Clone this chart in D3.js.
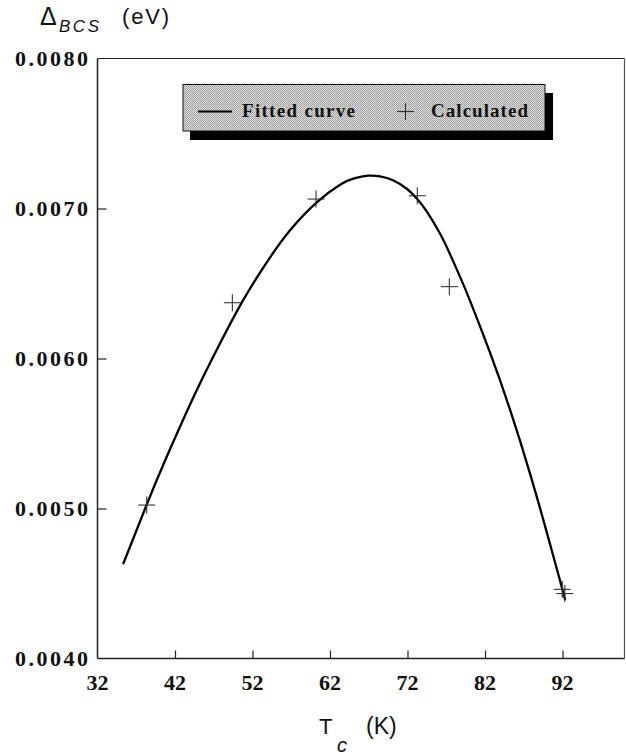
<!DOCTYPE html>
<html>
<head>
<meta charset="utf-8">
<script src="https://cdn.jsdelivr.net/npm/d3@7"></script>
<style>
  html, body { margin: 0; padding: 0; background: #fff; }
  svg { display: block; }
  .tick-label { font-family: "Liberation Serif", "Times New Roman", serif; font-weight: bold; font-size: 22px; fill: #111; }
  .legend-label { font-family: "Liberation Serif", "Times New Roman", serif; font-weight: bold; font-size: 19px; fill: #111; }
  .axis-title { font-family: "Liberation Sans", Arial, sans-serif; fill: #111; }
</style>
</head>
<body>
<svg id="chart" width="626" height="755"></svg>
<script>
// Calculated BCS gap values versus critical temperature
const tcCalculated  = [38.35, 49.4, 60.2, 73.26, 77.4, 91.97, 92.3];
const gapCalculated = [0.005023, 0.006372, 0.007063, 0.007085, 0.006479, 0.004461, 0.004433];

// Sampled points along the fitted curve
const tcFitted  = [35.35, 38.35, 40.75, 44.15, 46.75, 50.65, 54.25, 56.85, 60.25, 63.35, 65.1, 66.9, 68.45, 70.13, 71.94, 73.23, 74.52, 76.19, 77.48, 78.77, 80.06, 82.65, 85.23, 87.81, 90.0, 91.68, 92.32];
const gapFitted = [0.004635, 0.005026, 0.005323, 0.005716, 0.005993, 0.006376, 0.006673, 0.006855, 0.007039, 0.00716, 0.007201, 0.007219, 0.007214, 0.007188, 0.00713, 0.007065, 0.006978, 0.006833, 0.006696, 0.006546, 0.006386, 0.006039, 0.005659, 0.005233, 0.004836, 0.00452, 0.004396];

// Axis tick values and labels
const xTickValues = [32, 42, 52, 62, 72, 82, 92];
const yTickValues = [0.004, 0.005, 0.006, 0.007, 0.008];
const yTickLabels = ["0.0040", "0.0050", "0.0060", "0.0070", "0.0080"];

const legendItems = ["Fitted curve", "Calculated"];

const svg = d3.select("#chart");
const plot = { left: 97.5, right: 624.5, top: 58.5, bottom: 658.5 };

const x = d3.scaleLinear().domain([32, 100]).range([plot.left, plot.right]);
const y = d3.scaleLinear().domain([0.004, 0.008]).range([plot.bottom, plot.top]);

// stippled legend fill
const defs = svg.append("defs");
const pat = defs.append("pattern")
  .attr("id", "stipple").attr("width", 2).attr("height", 2)
  .attr("patternUnits", "userSpaceOnUse");
pat.append("rect").attr("width", 2).attr("height", 2).attr("fill", "#dedede");
pat.append("rect").attr("x", 0).attr("y", 0).attr("width", 1).attr("height", 1).attr("fill", "#9c9c9c");
pat.append("rect").attr("x", 1).attr("y", 1).attr("width", 1).attr("height", 1).attr("fill", "#a8a8a8");

// frame: top and right edges
svg.append("line").attr("x1", plot.left).attr("x2", plot.right).attr("y1", plot.top).attr("y2", plot.top)
  .attr("stroke", "#222").attr("stroke-width", 1.2);
svg.append("line").attr("x1", plot.right).attr("x2", plot.right).attr("y1", plot.top).attr("y2", plot.bottom)
  .attr("stroke", "#555").attr("stroke-width", 1.2);

// bottom axis, ticks pointing inward
const xAxis = d3.axisBottom(x).tickValues(xTickValues.slice(1)).tickSize(-8).tickFormat("");
const gx = svg.append("g").attr("transform", `translate(0,${plot.bottom})`).call(xAxis);
gx.select(".domain").attr("d", `M${plot.left},0H${plot.right}`).attr("stroke", "#222").attr("stroke-width", 1.5);
gx.selectAll(".tick line").attr("stroke", "#222").attr("stroke-width", 1.2);

// left axis, ticks pointing inward
const yAxis = d3.axisLeft(y).tickValues(yTickValues.slice(1, -1)).tickSize(-9).tickFormat("");
const gy = svg.append("g").attr("transform", `translate(${plot.left},0)`).call(yAxis);
gy.select(".domain").attr("d", `M0,${plot.top}V${plot.bottom}`).attr("stroke", "#222").attr("stroke-width", 1.5);
gy.selectAll(".tick line").attr("stroke", "#222").attr("stroke-width", 1.2);

// tick labels
svg.append("g").selectAll("text").data(xTickValues).join("text")
  .attr("class", "tick-label")
  .attr("x", d => x(d)).attr("y", 690)
  .attr("text-anchor", "middle")
  .text(d => d);

svg.append("g").selectAll("text").data(yTickValues).join("text")
  .attr("class", "tick-label")
  .attr("x", 15).attr("y", d => y(d) + 7.5)
  .attr("textLength", 73).attr("lengthAdjust", "spacing")
  .text((d, i) => yTickLabels[i]);

// fitted curve
const fitData = tcFitted.map((t, i) => [t, gapFitted[i]]);
svg.append("path")
  .datum(fitData)
  .attr("fill", "none").attr("stroke", "#000").attr("stroke-width", 2.3)
  .attr("stroke-linejoin", "round").attr("stroke-linecap", "round")
  .attr("d", d3.line().x(d => x(d[0])).y(d => y(d[1])).curve(d3.curveNatural));

// calculated points as crosses
const crossArm = 8.5;
const calcData = tcCalculated.map((t, i) => [t, gapCalculated[i]]);
const crosses = svg.append("g").selectAll("g").data(calcData).join("g")
  .attr("transform", d => `translate(${x(d[0])},${y(d[1])})`);
crosses.append("line").attr("x1", -crossArm).attr("x2", crossArm).attr("y1", 0).attr("y2", 0)
  .attr("stroke", "#333").attr("stroke-width", 1.1);
crosses.append("line").attr("x1", 0).attr("x2", 0).attr("y1", -crossArm).attr("y2", crossArm)
  .attr("stroke", "#333").attr("stroke-width", 1.1);

// legend box with drop shadow
const legend = svg.append("g");
legend.append("rect").attr("x", 190).attr("y", 93).attr("width", 363).attr("height", 47).attr("fill", "#000");
legend.append("rect").attr("x", 183).attr("y", 84.5).attr("width", 362).attr("height", 46.5)
  .attr("fill", "url(#stipple)").attr("stroke", "#111").attr("stroke-width", 1);
legend.append("line").attr("x1", 198).attr("x2", 232).attr("y1", 111.5).attr("y2", 111.5)
  .attr("stroke", "#000").attr("stroke-width", 2.2);
legend.append("text").attr("class", "legend-label").attr("x", 242).attr("y", 117)
  .attr("textLength", 113).attr("lengthAdjust", "spacing").text(legendItems[0]);
legend.append("line").attr("x1", 397).attr("x2", 414).attr("y1", 111.5).attr("y2", 111.5)
  .attr("stroke", "#333").attr("stroke-width", 1.1);
legend.append("line").attr("x1", 405.5).attr("x2", 405.5).attr("y1", 103).attr("y2", 120)
  .attr("stroke", "#333").attr("stroke-width", 1.1);
legend.append("text").attr("class", "legend-label").attr("x", 431).attr("y", 117)
  .attr("textLength", 97).attr("lengthAdjust", "spacing").text(legendItems[1]);

// y axis title: Δ_BCS (eV)
svg.append("text").attr("class", "axis-title").attr("x", 40).attr("y", 25)
  .attr("font-size", 25).text("Δ");
svg.append("text").attr("class", "axis-title").attr("x", 59).attr("y", 31.5)
  .attr("font-size", 17).attr("font-style", "italic")
  .attr("textLength", 40).attr("lengthAdjust", "spacing").text("BCS");
svg.append("text").attr("class", "axis-title").attr("x", 122).attr("y", 24)
  .attr("font-size", 22).attr("textLength", 47).attr("lengthAdjust", "spacing").text("(eV)");

// x axis title: T_c (K)
svg.append("text").attr("class", "axis-title").attr("x", 319).attr("y", 734)
  .attr("font-size", 22).text("T");
svg.append("text").attr("class", "axis-title").attr("x", 337).attr("y", 751.5)
  .attr("font-size", 20).attr("font-style", "italic").text("c");
svg.append("text").attr("class", "axis-title").attr("x", 366).attr("y", 734)
  .attr("font-size", 23).text("(K)");
</script>
</body>
</html>
